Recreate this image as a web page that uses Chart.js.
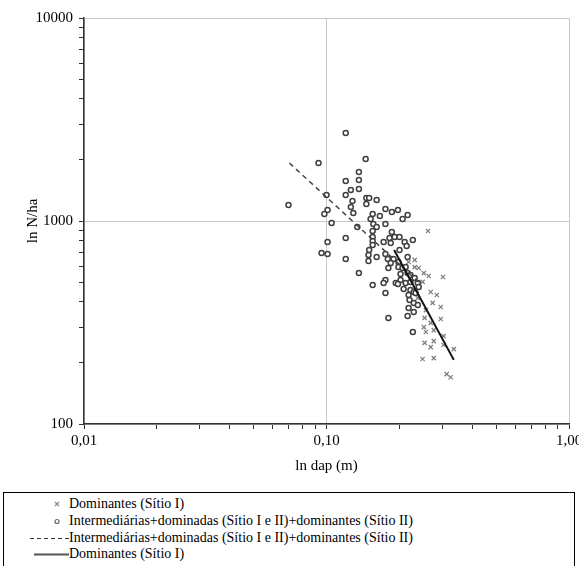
<!DOCTYPE html>
<html>
<head>
<meta charset="utf-8">
<script src="https://cdn.jsdelivr.net/npm/chart.js@4.4.1/dist/chart.umd.min.js"></script>
<style>
  html, body { margin: 0; padding: 0; background: #fff; }
  #wrap { position: relative; width: 579px; height: 566px; overflow: hidden; background: #fff; }
  #c { position: absolute; left: 0; top: 0; }
  #legend {
    position: absolute; left: 3px; top: 492px; width: 572px; height: 100px;
    border: 1px solid #000; box-sizing: border-box;
    font-family: "Liberation Serif", serif; font-size: 14px; color: #000;
  }
  .row { position: absolute; left: 0; height: 16px; line-height: 16px; white-space: nowrap; }
  .row svg { position: absolute; left: 0; top: 0; }
  .row span { position: absolute; left: 65px; top: 0; }
</style>
</head>
<body>
<div id="wrap">
  <canvas id="c" width="579" height="485"></canvas>
  <div id="legend"></div>
</div>
<script>
// Diameter (m) and density (N/ha) of the dominant trees, site I
const domDap = [0.262, 0.231, 0.231, 0.252, 0.302, 0.264, 0.269, 0.285, 0.274, 0.296,
  0.296, 0.254, 0.269, 0.252, 0.277, 0.257, 0.304, 0.277, 0.254, 0.304,
  0.335, 0.269, 0.277, 0.249, 0.325, 0.313, 0.240, 0.249, 0.238, 0.257, 0.218];
const domN = [893, 643, 593, 554, 530, 536, 447, 432, 395, 377,
  329, 333, 315, 300, 290, 284, 271, 256, 251, 245,
  234, 239, 211, 209, 170, 176, 587, 501, 418, 364, 628];

// Intermediate + dominated trees (sites I and II) + dominant trees (site II)
const interDap = [0.120, 0.0927, 0.145, 0.136, 0.136, 0.120, 0.126, 0.136, 0.120, 0.100,
  0.0697, 0.128, 0.126, 0.146, 0.150, 0.161, 0.146, 0.101, 0.098, 0.129,
  0.155, 0.166, 0.175, 0.186, 0.197, 0.216, 0.206, 0.152, 0.105, 0.156,
  0.134, 0.175, 0.161, 0.155, 0.120, 0.186, 0.155, 0.182, 0.191, 0.200,
  0.155, 0.172, 0.184, 0.210, 0.227, 0.155, 0.200, 0.214, 0.101, 0.0954,
  0.101, 0.150, 0.120, 0.149, 0.161, 0.175, 0.179, 0.149, 0.189, 0.198,
  0.216, 0.184, 0.198, 0.206, 0.212, 0.180, 0.136, 0.202, 0.216, 0.222,
  0.175, 0.193, 0.202, 0.212, 0.222, 0.231, 0.238, 0.155, 0.172, 0.197,
  0.208, 0.222, 0.229, 0.175, 0.218, 0.233, 0.240, 0.220, 0.229, 0.218,
  0.238, 0.216, 0.180, 0.227, 0.229];
const interN = [2714, 1931, 2020, 1743, 1592, 1574, 1421, 1438, 1343, 1343,
  1199, 1255, 1172, 1298, 1298, 1269, 1213, 1133, 1083, 1095,
  1083, 1058, 1146, 1107, 1133, 1070, 1023, 1023, 977, 966,
  934, 966, 934, 893, 825, 883, 834, 825, 834, 834,
  797, 788, 779, 788, 806, 762, 720, 753, 788, 696,
  688, 720, 650, 680, 665, 688, 650, 635, 650, 628,
  665, 621, 593, 587, 593, 587, 554, 548, 554, 542,
  512, 495, 512, 495, 501, 524, 495, 484, 495, 489,
  462, 457, 447, 442, 432, 442, 473, 408, 395, 373,
  386, 340, 333, 284, 356];

// Fitted lines (end points)
const dashDap = [0.0703, 0.24];
const dashN = [1931, 500];
const solidDap = [0.19, 0.335];
const solidN = [720, 207];

// Series names
const seriesLabels = [
  'Dominantes (Sítio I)',
  'Intermediárias+dominadas (Sítio I e II)+dominantes (Sítio II)',
  'Intermediárias+dominadas (Sítio I e II)+dominantes (Sítio II)',
  'Dominantes (Sítio I)'
];

// Axis ticks
const xTickValues = [0.01, 0.1, 1];
const xTickLabels = ['0,01', '0,10', '1,00'];
const yTickValues = [100, 1000, 10000];
const yTickLabels = ['100', '1000', '10000'];

const pts = (xs, ys) => xs.map((x, i) => ({ x: x, y: ys[i] }));

// tick positions at 1..9 x 10^n between the axis limits
function decadeTicks(min, max) {
  const out = [];
  for (let e = Math.round(Math.log10(min)); e < Math.round(Math.log10(max)); e++) {
    for (let s = 1; s < 10; s++) out.push(+(s * Math.pow(10, e)).toPrecision(6));
  }
  out.push(max);
  return out;
}
const isDecade = v => Math.abs(Math.log10(v) - Math.round(Math.log10(v))) < 1e-9;

function labelFor(values, labels, v) {
  for (let i = 0; i < values.length; i++) {
    if (Math.abs(values[i] - v) / values[i] < 1e-9) return labels[i];
  }
  return '';
}

const serif = 'Liberation Serif';

new Chart(document.getElementById('c'), {
  type: 'scatter',
  data: {
    datasets: [
      {
        label: seriesLabels[3], data: pts(solidDap, solidN), showLine: true,
        borderColor: '#111', borderWidth: 2, pointRadius: 0, order: 0
      },
      {
        label: seriesLabels[2], data: pts(dashDap, dashN), showLine: true,
        borderColor: '#444', borderWidth: 1.5, borderDash: [5, 4], pointRadius: 0, order: 1
      },
      {
        label: seriesLabels[1], data: pts(interDap, interN),
        pointStyle: 'circle', pointRadius: 2.5, borderWidth: 1.5,
        borderColor: '#404040', backgroundColor: '#fff', order: 2
      },
      {
        label: seriesLabels[0], data: pts(domDap, domN),
        pointStyle: 'crossRot', pointRadius: 3, borderWidth: 1.3,
        borderColor: '#808080', backgroundColor: '#808080', order: 3
      }
    ]
  },
  options: {
    responsive: false,
    animation: false,
    layout: { padding: { left: 20, right: 10, top: 18, bottom: 6 } },
    plugins: { legend: { display: false }, tooltip: { enabled: false } },
    scales: {
      x: {
        type: 'logarithmic', position: 'bottom', min: 0.01, max: 1,
        afterBuildTicks: s => { s.ticks = decadeTicks(0.01, 1).map(v => ({ value: v })); },
        afterFit: s => { s.height = 55; s.paddingRight = 0; s.paddingLeft = 0; },
        ticks: {
          autoSkip: false, maxRotation: 0, padding: 3, color: '#000',
          font: { family: serif, size: 15 },
          callback: v => labelFor(xTickValues, xTickLabels, v)
        },
        grid: {
          color: ctx => (ctx.tick && isDecade(ctx.tick.value)) ? '#c8c8c8' : 'rgba(0,0,0,0)',
          tickColor: '#333', tickLength: 5, lineWidth: 1
        },
        border: { color: '#333', width: 1.5 },
        title: { display: true, text: 'ln dap (m)', color: '#000', font: { family: serif, size: 15 } }
      },
      y: {
        type: 'logarithmic', position: 'left', min: 100, max: 10000,
        afterBuildTicks: s => { s.ticks = decadeTicks(100, 10000).map(v => ({ value: v })); },
        afterFit: s => { s.width = 64; },
        ticks: {
          autoSkip: false, padding: 6, color: '#000',
          font: { family: serif, size: 15 },
          callback: v => labelFor(yTickValues, yTickLabels, v)
        },
        grid: {
          color: ctx => (ctx.tick && isDecade(ctx.tick.value)) ? '#c8c8c8' : 'rgba(0,0,0,0)',
          tickColor: '#333', tickLength: 5, lineWidth: 1
        },
        border: { color: '#333', width: 1.5 },
        title: { display: true, text: 'ln N/ha', color: '#000', font: { family: serif, size: 15 } }
      }
    }
  }
});

// Legend box under the chart
const legendRows = [
  { label: seriesLabels[0], top: 3,
    svg: '<svg width="65" height="16"><path d="M51 6 L55 10 M55 6 L51 10" stroke="#888" stroke-width="1.2"/></svg>' },
  { label: seriesLabels[1], top: 20,
    svg: '<svg width="65" height="16"><circle cx="53" cy="8.5" r="2" fill="#fff" stroke="#666" stroke-width="1.2"/></svg>' },
  { label: seriesLabels[2], top: 37,
    svg: '<svg width="65" height="16"><line x1="26" y1="8.5" x2="65" y2="8.5" stroke="#333" stroke-width="1" stroke-dasharray="4,3"/></svg>' },
  { label: seriesLabels[3], top: 53,
    svg: '<svg width="65" height="16"><line x1="30" y1="8.5" x2="65" y2="8.5" stroke="#555" stroke-width="2"/></svg>' }
];
const legendEl = document.getElementById('legend');
legendRows.forEach(r => {
  const row = document.createElement('div');
  row.className = 'row';
  row.style.top = r.top + 'px';
  row.innerHTML = r.svg;
  const span = document.createElement('span');
  span.textContent = r.label;
  row.appendChild(span);
  legendEl.appendChild(row);
});
</script>
</body>
</html>
